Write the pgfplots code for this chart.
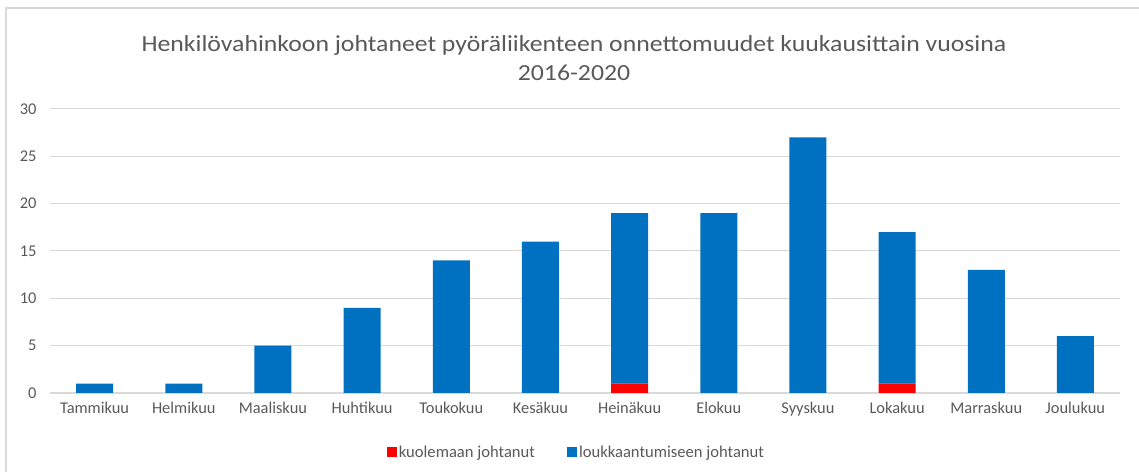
\documentclass[border=0pt]{standalone}
\usepackage{fontspec}
\setmainfont{Carlito}
\newfontfamily\titlefont[FakeStretch=1.12]{Carlito}
\usepackage{pgfplots}
\pgfplotsset{compat=1.18}
\definecolor{myblue}{HTML}{0070C0}
\definecolor{myred}{HTML}{FF0000}
\definecolor{txt}{HTML}{595959}
\definecolor{gridc}{HTML}{D9D9D9}
\begin{document}
\begin{tikzpicture}
\path[use as bounding box] (0,0) rectangle (1139bp,472bp);
\draw[gridc, line width=1.5bp] (6bp,0) -- (6bp,464bp) -- (1139bp,464bp);
\node[txt, font=\titlefont\fontsize{23bp}{29bp}\selectfont, align=center] at (574bp,414bp) {Henkilövahinkoon johtaneet pyöräliikenteen onnettomuudet kuukausittain vuosina\\2016-2020};
\begin{axis}[
  at={(50bp,79bp)}, anchor=south west,
  scale only axis, width=1070bp, height=284bp,
  ybar stacked, bar width=37bp,
  xmin=-0.5, xmax=11.5, ymin=0, ymax=30,
  xtick={0,...,11},
  xticklabels={Tammikuu,Helmikuu,Maaliskuu,Huhtikuu,Toukokuu,Kesäkuu,Heinäkuu,Elokuu,Syyskuu,Lokakuu,Marraskuu,Joulukuu},
  ytick={0,5,...,30},
  axis x line*=bottom, axis y line*=left,
  x axis line style={gridc, line width=1.2bp, -},
  y axis line style={draw=none},
  ymajorgrids, grid style={gridc, line width=1bp},
  major tick length=0pt,
  tick label style={txt, font=\fontsize{16.4bp}{18bp}\selectfont},
  /pgf/number format/assume math mode=true,
  yticklabel style={xshift=-10bp},
  xticklabel style={yshift=-6bp},
  legend columns=2,
  legend style={at={(0.492,-0.208)}, anchor=center, draw=none, fill=none,
    font=\fontsize{16.6bp}{18bp}\selectfont, text=txt,
    nodes={inner xsep=2bp},
    /tikz/every even column/.append style={column sep=30bp}},
  legend image code/.code={\fill[#1] (0bp,-5bp) rectangle (10bp,5bp);},
  every axis plot/.append style={draw=none},
]
\addplot[fill=myred] coordinates {(0,0) (1,0) (2,0) (3,0) (4,0) (5,0) (6,1) (7,0) (8,0) (9,1) (10,0) (11,0)};
\addplot[fill=myblue] coordinates {(0,1) (1,1) (2,5) (3,9) (4,14) (5,16) (6,18) (7,19) (8,27) (9,16) (10,13) (11,6)};
\legend{kuolemaan johtanut, loukkaantumiseen johtanut}
\end{axis}
\end{tikzpicture}
\end{document}
